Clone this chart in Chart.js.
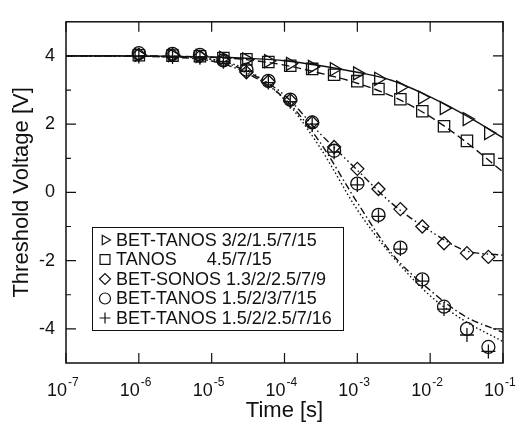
<!DOCTYPE html>
<html>
<head>
<meta charset="utf-8">
<script src="https://cdn.jsdelivr.net/npm/chart.js@4.4.1/dist/chart.umd.min.js"></script>
<style>
  html, body { margin: 0; padding: 0; background: #fff; }
</style>
</head>
<body>
<canvas id="chart" width="520" height="429"></canvas>
<script>
// measured points (time in s, threshold voltage in V)
const times = [1e-6, 2.9e-6, 6.9e-6, 1.45e-5, 3e-5, 6e-5, 1.2e-4, 2.4e-4, 4.8e-4, 1e-3, 1.95e-3, 3.9e-3, 7.8e-3, 1.55e-2, 3.2e-2, 6.3e-2];
const triVals    = [4.03, 4.02, 4.0, 3.94, 3.9, 3.85, 3.77, 3.68, 3.61, 3.49, 3.33, 3.08, 2.78, 2.47, 2.15, 1.74];
const squareVals = [4.02, 4.01, 3.99, 3.94, 3.9, 3.82, 3.71, 3.62, 3.45, 3.26, 3.03, 2.73, 2.38, 1.94, 1.51, 0.96];
const diamondVals = [4.04, 4.03, 3.98, 3.86, 3.52, 3.25, 2.7, 2.05, 1.33, 0.69, 0.1, -0.49, -1.0, -1.49, -1.78, -1.89];
const circleVals = [4.08, 4.06, 4.03, 3.87, 3.6, 3.27, 2.72, 2.05, 1.22, 0.26, -0.66, -1.62, -2.55, -3.35, -4.0, -4.53];
const plusVals   = [3.98, 3.97, 3.95, 3.83, 3.55, 3.22, 2.66, 2.0, 1.18, 0.22, -0.7, -1.66, -2.6, -3.42, -4.18, -4.66];

// fitted curves
const fitTimes = [1e-7, 1e-6, 3e-6, 1e-5, 3e-5, 1e-4, 3e-4, 1e-3, 3e-3, 1e-2, 3e-2, 1e-1];
const triFit     = [4.0, 4.0, 3.99, 3.97, 3.93, 3.86, 3.72, 3.52, 3.28, 2.8, 2.27, 1.6];
const squareFit  = [4.0, 4.0, 3.99, 3.96, 3.89, 3.73, 3.5, 3.2, 2.82, 2.22, 1.5, 0.6];
const diamondFit = [4.0, 3.99, 3.97, 3.9, 3.55, 2.85, 1.75, 0.65, -0.33, -1.13, -1.7, -1.84];
const circleFit  = [4.0, 3.99, 3.96, 3.85, 3.5, 2.75, 1.5, -0.3, -1.8, -2.87, -3.63, -4.1];
const plusFit    = [4.0, 3.99, 3.97, 3.9, 3.6, 2.72, 1.35, -0.51, -1.86, -3.03, -3.77, -4.37];

const legendLabels = [
  'BET-TANOS 3/2/1.5/7/15',
  'TANOS      4.5/7/15',
  'BET-SONOS 1.3/2/2.5/7/9',
  'BET-TANOS 1.5/2/3/7/15',
  'BET-TANOS 1.5/2/2.5/7/16'
];
const xTickVals = [1e-7, 1e-6, 1e-5, 1e-4, 1e-3, 1e-2, 1e-1];
const xTickExp = ['-7', '-6', '-5', '-4', '-3', '-2', '-1'];
const yTickVals = [-4, -2, 0, 2, 4];
const yMinorVals = [-3, -1, 1, 3];

const ink = '#111';
const font = "'Liberation Sans', Arial, sans-serif";

const pts = (xs, ys) => xs.map((x, i) => ({ x: x, y: ys[i] }));

const markerStyles = [
  { pointStyle: 'triangle', rotation: 90, radius: 7.5 },
  { pointStyle: 'rect', rotation: 0, radius: 8 },
  { pointStyle: 'rectRot', rotation: 0, radius: 6.5 },
  { pointStyle: 'circle', rotation: 0, radius: 6.5 },
  { pointStyle: 'cross', rotation: 0, radius: 7 }
];
const seriesVals = [triVals, squareVals, diamondVals, circleVals, plusVals];
const fitVals = [triFit, squareFit, diamondFit, circleFit, plusFit];
const fitDash = [[], [8, 4], [7, 3, 1.5, 3, 1.5, 3], [7, 3, 1.5, 3], [1.5, 2.5]];

const datasets = [];
fitVals.forEach((f, i) => {
  datasets.push({
    data: pts(fitTimes, f),
    showLine: true,
    borderColor: ink,
    borderWidth: 1.4,
    borderDash: fitDash[i],
    pointRadius: 0,
    cubicInterpolationMode: 'monotone'
  });
});
seriesVals.forEach((v, i) => {
  datasets.push({
    label: legendLabels[i],
    data: pts(times, v),
    showLine: false,
    pointStyle: markerStyles[i].pointStyle,
    rotation: markerStyles[i].rotation,
    pointRadius: markerStyles[i].radius,
    pointBorderColor: ink,
    pointBackgroundColor: 'rgba(0,0,0,0)',
    pointBorderWidth: 1.3
  });
});

const decorations = {
  id: 'decorations',
  afterDatasetsDraw(chart) {
    const { ctx, chartArea: a, scales: { x, y } } = chart;
    ctx.save();
    ctx.strokeStyle = ink;
    ctx.fillStyle = ink;

    // frame and inward ticks
    ctx.lineWidth = 1.5;
    ctx.strokeRect(a.left, a.top, a.right - a.left, a.bottom - a.top);
    ctx.lineWidth = 1.2;
    ctx.beginPath();
    xTickVals.forEach(t => {
      const px = x.getPixelForValue(t);
      ctx.moveTo(px, a.bottom); ctx.lineTo(px, a.bottom - 10);
      ctx.moveTo(px, a.top); ctx.lineTo(px, a.top + 10);
    });
    yTickVals.forEach(v => {
      const py = y.getPixelForValue(v);
      ctx.moveTo(a.left, py); ctx.lineTo(a.left + 10, py);
      ctx.moveTo(a.right, py); ctx.lineTo(a.right - 10, py);
    });
    yMinorVals.forEach(v => {
      const py = y.getPixelForValue(v);
      ctx.moveTo(a.left, py); ctx.lineTo(a.left + 5, py);
      ctx.moveTo(a.right, py); ctx.lineTo(a.right - 5, py);
    });
    ctx.stroke();

    // x tick labels with superscript exponents
    ctx.textBaseline = 'alphabetic';
    xTickVals.forEach((t, i) => {
      const px = x.getPixelForValue(t);
      ctx.font = '18px ' + font;
      ctx.textAlign = 'right';
      ctx.fillText('10', px + 1, 396);
      ctx.font = '12px ' + font;
      ctx.textAlign = 'left';
      ctx.fillText(xTickExp[i], px + 2, 386);
    });

    // axis titles
    ctx.font = '22px ' + font;
    ctx.textAlign = 'center';
    ctx.textBaseline = 'middle';
    ctx.fillText('Time [s]', (a.left + a.right) / 2, 411);
    ctx.save();
    ctx.translate(22, (a.top + a.bottom) / 2);
    ctx.rotate(-Math.PI / 2);
    ctx.fillText('Threshold Voltage [V]', 0, 0);
    ctx.restore();

    // legend box
    ctx.fillStyle = '#fff';
    ctx.fillRect(92.5, 227.5, 251, 103);
    ctx.lineWidth = 1;
    ctx.strokeRect(92.5, 227.5, 251, 103);
    ctx.font = '18px ' + font;
    ctx.textAlign = 'left';
    legendLabels.forEach((lab, i) => {
      const ly = 240 + i * 19.5;
      ctx.fillStyle = 'rgba(0,0,0,0)';
      ctx.strokeStyle = ink;
      ctx.lineWidth = 1.2;
      Chart.helpers.drawPoint(ctx, {
        pointStyle: markerStyles[i].pointStyle,
        rotation: markerStyles[i].rotation,
        radius: markerStyles[i].pointStyle === 'rect' ? 7 : 5.5,
        borderWidth: 1.2
      }, 105, ly);
      ctx.fillStyle = ink;
      ctx.fillText(lab, 116, ly + 1);
    });
    ctx.restore();
  }
};

new Chart(document.getElementById('chart'), {
  type: 'scatter',
  data: { datasets: datasets },
  options: {
    responsive: false,
    animation: false,
    layout: { padding: { left: 0, top: 9, right: 17, bottom: 0 } },
    plugins: { legend: { display: false }, tooltip: { enabled: false } },
    scales: {
      x: {
        type: 'logarithmic',
        min: 1e-7,
        max: 1e-1,
        grid: { display: false },
        border: { display: false },
        ticks: { display: false },
        afterFit: s => { s.height = 66; }
      },
      y: {
        min: -5,
        max: 5,
        grid: { display: false, drawTicks: false },
        border: { display: false },
        ticks: { color: ink, padding: 11, font: { size: 18, family: font } },
        afterBuildTicks: s => { s.ticks = yTickVals.map(v => ({ value: v })); },
        afterFit: s => { s.width = 66; }
      }
    }
  },
  plugins: [decorations]
});
</script>
</body>
</html>
